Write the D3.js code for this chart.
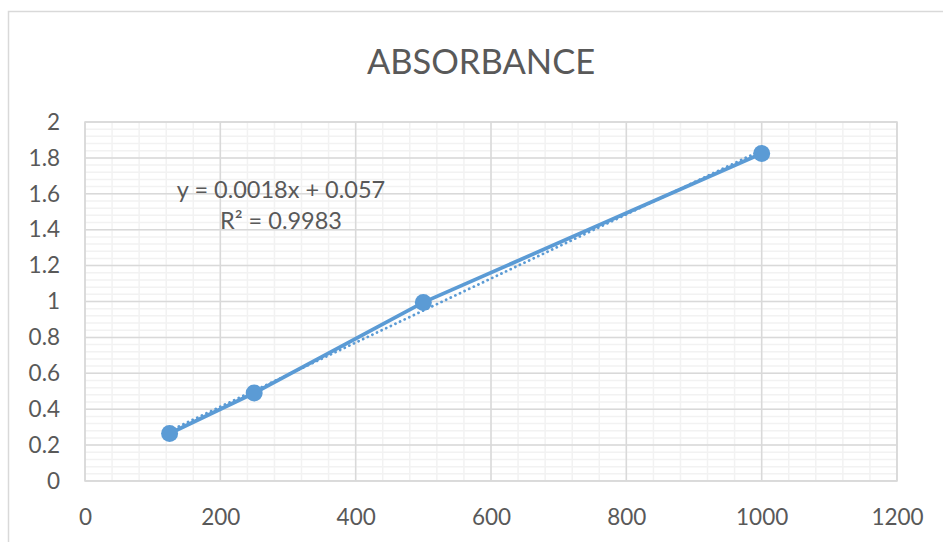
<!DOCTYPE html>
<html>
<head>
<meta charset="utf-8">
<script src="https://cdn.jsdelivr.net/npm/d3@7"></script>
<style>
  html, body { margin:0; padding:0; background:#fff; }
  svg { display:block; font-family: Lato, "Open Sans", sans-serif; }
</style>
</head>
<body>
<div id="chart"></div>
<script>
// values
var concentrations = [125, 250, 500, 1000]
var absorbance = [0.265, 0.49, 0.995, 1.825]
var xTicks = [0, 200, 400, 600, 800, 1000, 1200]
var yTicks = [0, 0.2, 0.4, 0.6, 0.8, 1, 1.2, 1.4, 1.6, 1.8, 2]
var chartTitle = "ABSORBANCE"
var eqLabel = "y = 0.0018x + 0.057"
var r2Label = "R² = 0.9983"

var W = 943, H = 542
var margin = {top: 122, right: 46, bottom: 61, left: 85}
var width = W - margin.left - margin.right
var height = H - margin.top - margin.bottom
var blue = "#5b9bd5", txt = "#595959"

var svg = d3.select("#chart").append("svg")
    .attr("width", W).attr("height", H)

// outer chart border (only left and top visible in the crop)
svg.append("rect")
    .attr("x", 8.5).attr("y", 11.5).attr("width", W + 10).attr("height", H + 10)
    .attr("fill", "#fff").attr("stroke", "#d9d9d9").attr("stroke-width", 1.5)

svg.append("text")
    .attr("x", 481).attr("y", 74).attr("text-anchor", "middle")
    .attr("fill", txt).attr("font-size", 34.5)
    .text(chartTitle)

var g = svg.append("g")
    .attr("transform", "translate(" + margin.left + "," + margin.top + ")")

var x = d3.scaleLinear().domain([0, 1200]).range([0, width])
var y = d3.scaleLinear().domain([0, 2]).range([height, 0])

// minor grid
g.append("g").selectAll("line")
    .data(d3.range(0, 1200.01, 40))
    .enter().append("line")
    .attr("x1", d => x(d)).attr("x2", d => x(d)).attr("y1", 0).attr("y2", height)
    .attr("stroke", "#f2f2f2").attr("stroke-width", 1.5)
g.append("g").selectAll("line")
    .data(d3.range(0, 2.0001, 0.04))
    .enter().append("line")
    .attr("y1", d => y(d)).attr("y2", d => y(d)).attr("x1", 0).attr("x2", width)
    .attr("stroke", "#f2f2f2").attr("stroke-width", 1.5)

// major grid
g.append("g").selectAll("line")
    .data(xTicks)
    .enter().append("line")
    .attr("x1", d => x(d)).attr("x2", d => x(d)).attr("y1", 0).attr("y2", height)
    .attr("stroke", "#d9d9d9").attr("stroke-width", 1.5)
g.append("g").selectAll("line")
    .data(yTicks)
    .enter().append("line")
    .attr("y1", d => y(d)).attr("y2", d => y(d)).attr("x1", 0).attr("x2", width)
    .attr("stroke", "#d9d9d9").attr("stroke-width", 1.5)

g.append("rect")
    .attr("width", width).attr("height", height)
    .attr("fill", "none").attr("stroke", "#d9d9d9").attr("stroke-width", 1.5)

// axes labels
var xa = g.append("g")
    .attr("transform", "translate(0," + height + ")")
    .call(d3.axisBottom(x).tickValues(xTicks).tickSize(0).tickPadding(28).tickFormat(d3.format("d")))
var ya = g.append("g")
    .call(d3.axisLeft(y).tickValues(yTicks).tickSize(0).tickPadding(25).tickFormat(d => String(+d.toFixed(1))))
;[xa, ya].forEach(a => {
  a.select(".domain").remove()
  a.selectAll("text").attr("fill", txt).attr("font-size", 22.5).attr("font-family", "Lato, 'Open Sans', sans-serif")
})

// linear trendline (least squares on the points)
var pts = concentrations.map((c, i) => ({x: c, y: absorbance[i]}))
var mx = d3.mean(pts, d => d.x), my = d3.mean(pts, d => d.y)
var slope = d3.sum(pts, d => (d.x - mx) * (d.y - my)) / d3.sum(pts, d => (d.x - mx) ** 2)
var icpt = my - slope * mx
var ends = d3.extent(concentrations).map(c => ({x: c, y: icpt + slope * c}))

var line = d3.line().x(d => x(d.x)).y(d => y(d.y))

g.append("path").datum(pts)
    .attr("fill", "none").attr("stroke", blue).attr("stroke-width", 3.75)
    .attr("stroke-linecap", "round").attr("d", line)

g.append("path").datum(ends)
    .attr("fill", "none").attr("stroke", blue).attr("stroke-width", 2.75)
    .attr("stroke-dasharray", "0.1,5").attr("stroke-linecap", "round").attr("d", line)

g.selectAll(".pt").data(pts)
    .enter().append("circle").attr("class", "pt")
    .attr("cx", d => x(d.x)).attr("cy", d => y(d.y)).attr("r", 8.5)
    .attr("fill", blue)

// equation label
var eq = svg.append("text").attr("text-anchor", "middle")
    .attr("fill", txt).attr("font-size", 23.5)
eq.append("tspan").attr("x", 281).attr("y", 198).text(eqLabel)
eq.append("tspan").attr("x", 281).attr("y", 229).text(r2Label)
</script>
</body>
</html>
